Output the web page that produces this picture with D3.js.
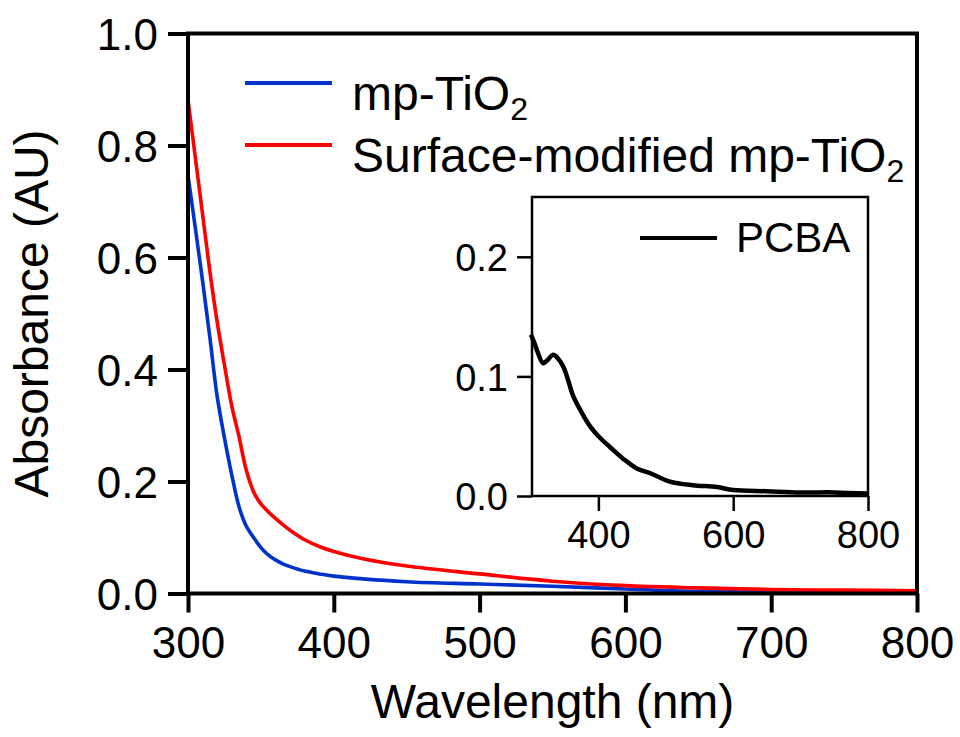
<!DOCTYPE html>
<html>
<head>
<meta charset="utf-8">
<script src="https://cdn.jsdelivr.net/npm/d3@7"></script>
<style>
  body { margin: 0; background: #fff; }
  svg text { font-family: "Liberation Sans", Arial, sans-serif; fill: #000; }
</style>
</head>
<body>
<div id="chart"></div>
<script>
// main plot data
const blueWl  = [300, 305, 310, 315, 320, 325, 330, 335, 340, 345, 350, 355, 360, 365, 370, 380, 390, 400, 450, 500, 550, 600, 650, 700, 750, 800];
const blueAbs = [0.747, 0.653, 0.558, 0.457, 0.352, 0.278, 0.212, 0.155, 0.120, 0.100, 0.082, 0.069, 0.060, 0.053, 0.048, 0.040, 0.035, 0.031, 0.021, 0.017, 0.013, 0.008, 0.004, 0.003, 0.002, 0.001];

const redWl  = [300, 305, 310, 315, 320, 325, 330, 335, 338, 340, 343, 346, 350, 355, 360, 365, 370, 375, 380, 390, 400, 420, 450, 500, 550, 600, 650, 700, 750, 800];
const redAbs = [0.881, 0.779, 0.677, 0.575, 0.485, 0.408, 0.335, 0.280, 0.242, 0.220, 0.195, 0.176, 0.160, 0.146, 0.134, 0.123, 0.113, 0.104, 0.096, 0.084, 0.075, 0.062, 0.049, 0.035, 0.022, 0.014, 0.010, 0.007, 0.006, 0.005];

// inset data
const pcbaWl  = [300, 305, 310, 318, 325, 333, 340, 348, 355, 363, 375, 388, 400, 417, 437, 457, 477, 506, 540, 576, 600, 650, 700, 750, 800];
const pcbaAbs = [0.135, 0.128, 0.120, 0.111, 0.114, 0.118, 0.115, 0.108, 0.097, 0.083, 0.070, 0.058, 0.050, 0.041, 0.031, 0.023, 0.019, 0.012, 0.009, 0.0075, 0.005, 0.004, 0.003, 0.003, 0.002];

const mainXTicks = [300, 400, 500, 600, 700, 800];
const mainYTicks = [0, 0.2, 0.4, 0.6, 0.8, 1.0];
const insetXTicks = [400, 600, 800];
const insetYTicks = [0, 0.1, 0.2];

const series = [
  { name: "mp-TiO", sub: "2", wl: blueWl, abs: blueAbs, color: "#0033cc" },
  { name: "Surface-modified mp-TiO", sub: "2", wl: redWl, abs: redAbs, color: "#ff0000" }
];

const WIDTH = 960, HEIGHT = 737;
const svg = d3.select("#chart").append("svg")
  .attr("width", WIDTH)
  .attr("height", HEIGHT);

// ---- main axes
const x = d3.scaleLinear().domain([300, 800]).range([188, 917]);
const y = d3.scaleLinear().domain([0, 1]).range([593.5, 33.5]);

const line = d3.line().curve(d3.curveCatmullRom.alpha(0.5));

series.forEach(s => {
  svg.append("path")
    .attr("d", line(s.wl.map((w, i) => [x(w), y(s.abs[i])])))
    .attr("fill", "none")
    .attr("stroke", s.color)
    .attr("stroke-width", 3.6);
});

const xAxis = svg.append("g")
  .attr("transform", `translate(0,${y(0)})`)
  .call(d3.axisBottom(x).tickValues(mainXTicks).tickSize(19).tickPadding(14).tickFormat(d3.format("d")));
const yAxis = svg.append("g")
  .attr("transform", `translate(${x(300)},0)`)
  .call(d3.axisLeft(y).tickValues(mainYTicks).tickSize(20).tickPadding(10).tickFormat(d3.format(".1f")));
[xAxis, yAxis].forEach(g => {
  g.select(".domain").remove();
  g.selectAll("line").attr("stroke", "#000").attr("stroke-width", 4);
  g.selectAll("text").style("font-size", "44px").attr("fill", "#000");
});
yAxis.selectAll("text").attr("dy", "0.36em");

// frame
svg.append("rect")
  .attr("x", x(300)).attr("y", y(1))
  .attr("width", x(800) - x(300)).attr("height", y(0) - y(1))
  .attr("fill", "none").attr("stroke", "#000").attr("stroke-width", 4);

// axis titles
svg.append("text")
  .attr("x", (x(300) + x(800)) / 2).attr("y", 718)
  .attr("text-anchor", "middle")
  .style("font-size", "48px")
  .text("Wavelength (nm)");
svg.append("text")
  .attr("transform", `translate(48,${(y(0) + y(1)) / 2}) rotate(-90)`)
  .attr("text-anchor", "middle")
  .style("font-size", "48px")
  .text("Absorbance (AU)");

// legend
series.forEach((s, i) => {
  const ly = 83 + i * 62;
  svg.append("line")
    .attr("x1", 245).attr("x2", 332).attr("y1", ly).attr("y2", ly)
    .attr("stroke", s.color).attr("stroke-width", 4);
  const t = svg.append("text")
    .attr("x", 352).attr("y", ly + 27)
    .style("font-size", "48px")
    .text(s.name);
  t.append("tspan").attr("dy", 10).style("font-size", "32px").text(s.sub);
});

// ---- inset
const ix = d3.scaleLinear().domain([300, 800]).range([531, 868]);
const iy = d3.scaleLinear().domain([0, 0.25]).range([496, 197]);

svg.append("rect")
  .attr("x", ix(300) + 1).attr("y", iy(0.25))
  .attr("width", ix(800) - ix(300) - 1).attr("height", iy(0) - iy(0.25))
  .attr("fill", "#fff").attr("stroke", "#000").attr("stroke-width", 2.5);

svg.append("path")
  .attr("d", line(pcbaWl.map((w, i) => [ix(w), iy(pcbaAbs[i])])))
  .attr("fill", "none").attr("stroke", "#000").attr("stroke-width", 4.5);

const ixAxis = svg.append("g")
  .attr("transform", `translate(0,${iy(0)})`)
  .call(d3.axisBottom(ix).tickValues(insetXTicks).tickSize(15).tickPadding(10).tickFormat(d3.format("d")));
const iyAxis = svg.append("g")
  .attr("transform", `translate(${ix(300) + 1},0)`)
  .call(d3.axisLeft(iy).tickValues(insetYTicks).tickSize(15).tickPadding(9).tickFormat(d3.format(".1f")));
[ixAxis, iyAxis].forEach(g => {
  g.select(".domain").remove();
  g.selectAll("line").attr("stroke", "#000").attr("stroke-width", 2.5);
  g.selectAll("text").style("font-size", "38px").attr("fill", "#000");
});
iyAxis.selectAll("text").attr("dy", "0.36em");

// inset legend
svg.append("line")
  .attr("x1", 640).attr("x2", 717).attr("y1", 238).attr("y2", 238)
  .attr("stroke", "#000").attr("stroke-width", 4);
svg.append("text")
  .attr("x", 736).attr("y", 252)
  .style("font-size", "42px")
  .text("PCBA");
</script>
</body>
</html>
